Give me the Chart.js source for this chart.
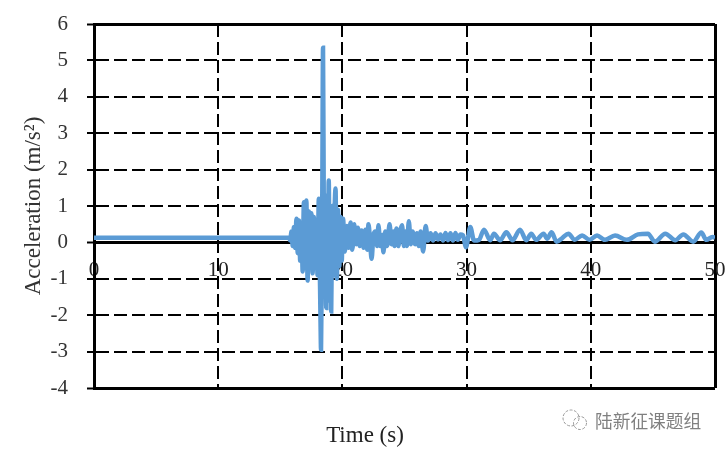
<!DOCTYPE html>
<html>
<head>
<meta charset="utf-8">
<script src="https://cdn.jsdelivr.net/npm/chart.js@4/dist/chart.umd.min.js"></script>
<style>
    body { margin: 0; background: #fff; }
    #wrap { position: relative; width: 725px; height: 452px; overflow: hidden; }
    #mark { position: absolute; left: 595px; top: 407px; font: 17.7px "Noto Sans CJK SC"; color: #808080; white-space: nowrap; }
    #logo { position: absolute; left: 559px; top: 408px; }
</style>
</head>
<body>
<div id="wrap">
    <canvas id="accChart" width="725" height="452"></canvas>
    <svg id="logo" width="32" height="26" fill="none" stroke="#999" stroke-width="1" stroke-dasharray="3 1.5">
        <circle cx="12" cy="10" r="8"></circle>
        <circle cx="21" cy="15" r="6.5"></circle>
    </svg>
    <div id="mark">陆新征课题组</div>
</div>
<script>
// Ground motion record
const timeValues = [
    0, 5, 10, 15, 15.6, 15.7, 15.8, 15.9, 16.0, 16.05,
    16.1, 16.15, 16.2, 16.25, 16.3, 16.35, 16.4, 16.45, 16.5, 16.55,
    16.6, 16.65, 16.7, 16.75, 16.8, 16.85, 16.9, 16.95, 17.0, 17.05,
    17.1, 17.15, 17.2, 17.25, 17.3, 17.35, 17.4, 17.45, 17.5, 17.55,
    17.6, 17.65, 17.7, 17.75, 17.8, 17.85, 17.9, 17.95, 18.0, 18.05,
    18.1, 18.15, 18.2, 18.24, 18.28, 18.33, 18.38, 18.44, 18.5, 18.55,
    18.6, 18.65, 18.7, 18.75, 18.8, 18.85, 18.9, 18.95, 19.0, 19.05,
    19.1, 19.15, 19.2, 19.25, 19.3, 19.35, 19.45, 19.5, 19.55, 19.6,
    19.65, 19.7, 19.75, 19.8, 19.85, 19.9, 19.95, 20.0, 20.05, 20.2,
    20.35, 20.5, 20.65, 20.8, 20.95, 21.1, 21.25, 21.4, 21.55, 21.7,
    21.85, 22.0, 22.1, 22.25, 22.35, 22.5, 22.65, 22.8, 22.9, 23.05,
    23.2, 23.3, 23.45, 23.6, 23.8, 23.95, 24.1, 24.2, 24.35, 24.5,
    24.65, 24.8, 24.95, 25.1, 25.2, 25.35, 25.5, 25.65, 25.85, 26.0,
    26.15, 26.3, 26.5, 26.7, 26.9, 27.1, 27.3, 27.5, 27.7, 27.9,
    28.1, 28.3, 28.5, 28.7, 28.9, 29.1, 29.3, 29.5, 29.7,
    29.95, 30.3, 30.6, 31.0, 31.4, 31.9, 32.2, 32.7, 33.2, 33.7,
    34.3, 34.8, 35.2, 35.6, 36.2, 36.5, 36.84, 37.25, 37.7, 38.2,
    38.7, 39.3, 39.9, 40.5, 41.15, 41.95, 42.9, 43.8, 44.6, 45.15,
    46, 46.8, 47.45, 48.25, 48.9, 49.3, 49.8, 50
];
const accelValues = [
    0.13, 0.13, 0.13, 0.13, 0.13, 0.13, 0.05, 0.3, -0.1, 0.2,
    0.42, 0, -0.15, 0.3, 0.65, 0.1, -0.3, 0.2, 0.6, 0.1,
    -0.5, 0, 0.5, -0.1, -0.8, 0.3, 1.1, 0.2, -0.7, 0.3,
    1.15, -0.1, -1.05, -0.1, 0.85, 0.2, -0.6, 0.2, 0.8, -0.1,
    -0.85, -0.1, 0.7, 0, -0.7, -0.1, 0.55, -0.2, -0.9, 0.2,
    1.2, 0, -1.2, -2.2, -2.95, -1, 1.3, 5.35, 1, -1.5,
    1.2, -0.5, -1.8, 0, 1.3, 0.5, 1.7, 0, -1.6, -0.5,
    -1.9, 0, 1.0, 0, -0.9, 0.5, 1.48, 0, -1, 0,
    0.9, 0, -0.65, 0, 0.7, 0.1, -0.5, 0.2, 0.65, -0.25,
    0.45, -0.15, 0.55, -0.2, 0.5, -0.05, 0.4, -0.1, 0.33, -0.15,
    0.35, -0.2, 0.5, -0.1, -0.45, 0.2, 0.3, -0.1, 0.47, -0.1,
    0.2, -0.27, 0.3, -0.1, 0.5, -0.05, 0.3, -0.1, 0.38, -0.1,
    0.3, 0.47, -0.1, 0.3, -0.1, 0.58, -0.05, 0.3, -0.05, 0.25,
    -0.1, 0.3, -0.25, 0.45, 0.05, 0.25, 0.05, 0.25, 0.08, 0.22,
    0.05, 0.26, 0.06, 0.25, 0.05, 0.26, 0.07, 0.22, 0.2,
    -0.13, 0.42, 0.05, 0.07, 0.35, 0.06, 0.24, 0.06, 0.28, 0.06,
    0.35, 0.06, 0.24, 0.07, 0.24, 0.1, 0.28, 0.02, 0.12, 0.24,
    0.07, 0.19, 0.07, 0.19, 0.07, 0.19, 0.07, 0.22, 0.24, 0.02,
    0.24, 0.06, 0.22, 0.02, 0.27, 0.07, 0.15, 0.13
];
const yTicks = [-4, -3, -2, -1, 0, 1, 2, 3, 4, 5, 6];
const xTicks = [0, 10, 20, 30, 40, 50];

const serif = 'Liberation Serif';

new Chart(document.getElementById('accChart'), {
    type: 'scatter',
    data: {
        datasets: [{
            data: timeValues.map((t, i) => ({ x: t, y: accelValues[i] })),
            showLine: true,
            borderColor: '#5b9bd5',
            borderWidth: 4.5,
            pointRadius: 0,
            cubicInterpolationMode: 'monotone'
        }]
    },
    options: {
        responsive: false,
        animation: false,
        layout: { padding: { top: 24, right: 10, left: 15, bottom: 0 } },
        plugins: {
            legend: { display: false },
            tooltip: { enabled: false },
            title: {
                display: true,
                position: 'bottom',
                text: 'Time (s)',
                color: '#222',
                font: { family: serif, size: 23, weight: 'normal' },
                padding: { top: 34.4, bottom: 2 }
            }
        },
        scales: {
            x: {
                type: 'linear',
                position: { y: 0 },
                min: 0,
                max: 50,
                afterBuildTicks: (axis) => { axis.ticks = xTicks.map(v => ({ value: v })); },
                afterFit: (axis) => { axis.paddingLeft = 0; axis.paddingRight = 0; },
                ticks: {
                    color: '#222',
                    font: { family: serif, size: 21 },
                    padding: 9,
                    maxRotation: 0,
                    autoSkip: false
                },
                grid: {
                    color: '#000',
                    lineWidth: (ctx) => (ctx.tick.value === 0 || ctx.tick.value === 50) ? 3 : 2,
                    tickColor: '#000',
                    tickWidth: 2,
                    tickLength: 6
                },
                border: {
                    color: '#000',
                    width: 3,
                    dash: (ctx) => (ctx.tick && (ctx.tick.value === 0 || ctx.tick.value === 50)) ? [] : [13, 5]
                }
            },
            y: {
                min: -4,
                max: 6,
                afterBuildTicks: (axis) => { axis.ticks = yTicks.map(v => ({ value: v })); },
                afterFit: (axis) => { axis.width = 79; axis.paddingTop = 0; axis.paddingBottom = 0; },
                title: {
                    display: true,
                    text: 'Acceleration (m/s²)',
                    color: '#333',
                    font: { family: serif, size: 23 },
                    padding: { top: 5, bottom: 0 }
                },
                ticks: {
                    color: '#333',
                    font: { family: serif, size: 21 },
                    padding: 19
                },
                grid: {
                    color: '#000',
                    lineWidth: (ctx) => (ctx.tick.value === 6 || ctx.tick.value === -4 || ctx.tick.value === 0) ? 3 : 2,
                    tickColor: '#000',
                    tickWidth: 2,
                    tickLength: 7
                },
                border: {
                    color: '#000',
                    width: 3,
                    dash: (ctx) => (ctx.tick && (ctx.tick.value === 6 || ctx.tick.value === -4 || ctx.tick.value === 0)) ? [] : [13, 5]
                }
            }
        }
    }
});
</script>
</body>
</html>
